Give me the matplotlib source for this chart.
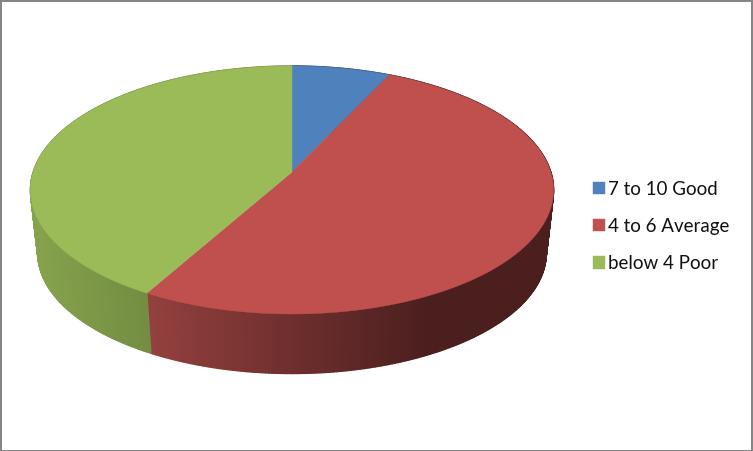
import numpy as np
import matplotlib
matplotlib.use("Agg")
import matplotlib.pyplot as plt
from matplotlib.collections import PolyCollection
from matplotlib.patches import Rectangle

categories = ["7 to 10 Good", "4 to 6 Average", "below 4 Poor"]
values = [7, 51.15, 41.85]
top_colors = ["#4F81BD", "#C0504D", "#9BBB59"]
side_light = ["#3F6797", "#93403E", "#85A24C"]
side_dark = ["#2A4565", "#4A1F1E", "#738C42"]

W, H = 753, 451
CX, CY = 292.0, 172.0      # projected pie centre
Q, K = 0.145, 121.4        # perspective and vertical radius
A = 258.8                  # horizontal radius
DEPTH, SHRINK = 63.0, 0.972
ELL_Y = 190.0


def top_xy(theta):
    u, v = np.sin(theta), np.cos(theta)
    w = 1 + Q * v
    return CX + A * u / w, CY - K * v / w


def bottom_xy(theta):
    x, y = top_xy(theta)
    return CX + (x - CX) * SHRINK, ELL_Y + DEPTH + (y - ELL_Y) * SHRINK


def hex_rgb(c):
    return np.array(matplotlib.colors.to_rgb(c))


fig = plt.figure(figsize=(W / 100, H / 100), dpi=100, facecolor="white")
ax = fig.add_axes([0, 0, 1, 1])
ax.set_xlim(0, W)
ax.set_ylim(H, 0)
ax.axis("off")

fractions = np.array(values) / np.sum(values)
edges = np.concatenate([[0], np.cumsum(fractions)]) * 2 * np.pi

# side wall, shaded along its horizontal position
for i in range(len(values)):
    t = np.linspace(edges[i], edges[i + 1], max(8, int(values[i] * 6)))
    x0, y0 = top_xy(t)
    x1, y1 = bottom_xy(t)
    quads, cols = [], []
    for j in range(len(t) - 1):
        quads.append([(x0[j], y0[j]), (x0[j + 1], y0[j + 1]),
                      (x1[j + 1], y1[j + 1]), (x1[j], y1[j])])
        xm = 0.5 * (x0[j] + x0[j + 1])
        if i == 1:
            f = np.clip((xm - 150) / (430 - 150), 0, 1)
        else:
            f = np.clip((xm - 35) / (150 - 35), 0, 1)
        cols.append(hex_rgb(side_light[i]) * (1 - f) + hex_rgb(side_dark[i]) * f)
    ax.add_collection(PolyCollection(quads, facecolors=cols, edgecolors=cols,
                                     linewidths=1.0, zorder=2))

# top face
handles = []
for i in range(len(values)):
    t = np.linspace(edges[i], edges[i + 1], 300)
    x, y = top_xy(t)
    p = ax.fill(np.r_[CX, x], np.r_[CY, y], facecolor=top_colors[i],
                edgecolor=top_colors[i], linewidth=0.3, zorder=3,
                label=categories[i])[0]
    handles.append(p)

ax.legend(handles=handles, labels=categories, loc="upper left",
          bbox_to_anchor=(586 / W, 1 - 174 / H), frameon=False,
          prop={"family": "Lato", "size": 13.5}, handlelength=0.64,
          handleheight=0.64, handletextpad=0.2, labelspacing=1.08,
          borderpad=0.35, borderaxespad=0, labelcolor="#111111")

ax.add_patch(Rectangle((1, 1), W - 2, H - 1.5, fill=False, edgecolor="#868686",
                       linewidth=1.44, zorder=5, clip_on=True))

fig.savefig("out.png", dpi=100, facecolor="white")
